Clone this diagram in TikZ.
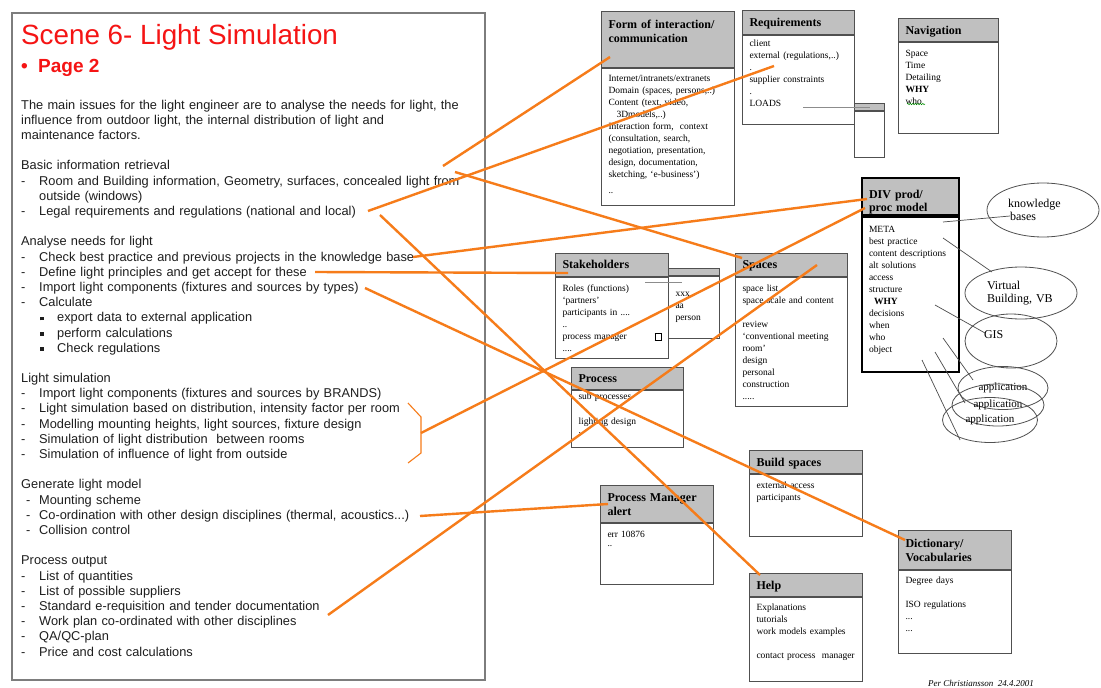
\documentclass[tikz,border=0pt]{standalone}
\usepackage{fontspec}
\setmainfont{Liberation Serif}
\setsansfont{Liberation Sans}
\usepackage{xcolor}
\usetikzlibrary{positioning,shapes.geometric,decorations.pathmorphing}
\definecolor{orangeln}{RGB}{246,124,26}
\definecolor{hdrgray}{RGB}{192,192,192}
\definecolor{boxline}{RGB}{80,80,80}
\definecolor{panelline}{RGB}{125,125,125}
\definecolor{paneltext}{RGB}{30,30,30}
\definecolor{titlered}{RGB}{245,20,20}
\setlength{\fboxsep}{0pt}
\newcommand{\dashitem}{\makebox[18pt][l]{-}}
\newcommand{\dashitemb}{\hspace*{5pt}\makebox[13pt][l]{-}}
\newcommand{\sqitem}{\hspace*{19pt}\makebox[17pt][l]{\rule[1.5pt]{3.5pt}{3.5pt}}}
\tikzset{
  panel/.style={draw=panelline, line width=1.6pt, inner sep=0pt, anchor=north west},
  hdr/.style={draw=boxline, line width=1pt, fill=hdrgray, anchor=north west, align=left, inner xsep=7pt, inner ysep=0pt, text=black, font=\fontsize{12}{13.5}\selectfont\bfseries},
  body/.style={draw=boxline, line width=1pt, fill=white, below=0pt of #1, align=left, inner xsep=7pt, inner ysep=0pt, text=black, font=\fontsize{9.5}{12}\selectfont},
  divbox/.style={draw=black, line width=2pt},
  bubble/.style={draw=boxline, line width=0.8pt, ellipse, inner sep=0pt, align=left, font=\fontsize{12}{13}\selectfont},
  appl/.style={draw=boxline, line width=0.8pt, ellipse, inner sep=0pt, font=\fontsize{11}{12}\selectfont},
  orange/.style={draw=orangeln, line width=2.4pt},
  thin/.style={draw=black!70, line width=0.7pt},
  grayln/.style={draw=black!45, line width=1pt}
}

\begin{document}
\begin{tikzpicture}[x=1pt, y=-1pt]
  \useasboundingbox (0,0) rectangle (1101,688);
  \fill[white] (0,0) rectangle (1101,688);

  % left panel
  \node[panel, minimum width=473pt, minimum height=667pt] (panel) at (11,12) {};
  \node[anchor=base west, inner sep=0pt, text=titlered, font=\sffamily\fontsize{27.8}{30}\selectfont] (title) at (21,45) {Scene 6- Light Simulation};
  \node[anchor=base west, inner sep=0pt, text=titlered, font=\sffamily\bfseries\fontsize{19}{22}\selectfont] (page) at (21,72) {\makebox[17pt][l]{\textbullet}Page 2};
  \node[anchor=base west, inner sep=0pt, text width=460pt, align=left, text=paneltext, font=\sffamily\fontsize{12.8}{15.2}\selectfont] (issues) at (21,109) {%
    The main issues for the light engineer are to analyse the needs for light, the\\
    influence from outdoor light, the internal distribution of light and\\
    maintenance factors.\\[15.2pt]
    Basic information retrieval\\
    \dashitem Room and Building information, Geometry, surfaces, concealed light from\\
    \hspace*{18pt}outside (windows)\\
    \dashitem Legal requirements and regulations (national and local)\\[15.2pt]
    Analyse needs for light\\
    \dashitem Check best practice and previous projects in the knowledge base\\
    \dashitem Define light principles and get accept for these\\
    \dashitem Import light components (fixtures and sources by types)\\
    \dashitem Calculate\\
    \sqitem export data to external application\\
    \sqitem perform calculations\\
    \sqitem Check regulations\\[15.2pt]
    Light simulation\\
    \dashitem Import light components (fixtures and sources by BRANDS)\\
    \dashitem Light simulation based on distribution, intensity factor per room\\
    \dashitem Modelling mounting heights, light sources, fixture design\\
    \dashitem Simulation of light distribution\ \ between rooms\\
    \dashitem Simulation of influence of light from outside\\[15.2pt]
    Generate light model\\
    \dashitemb Mounting scheme\\
    \dashitemb Co-ordination with other design disciplines (thermal, acoustics...)\\
    \dashitemb Collision control\\[15.2pt]
    Process output\\
    \dashitem List of quantities\\
    \dashitem List of possible suppliers\\
    \dashitem Standard e-requisition and tender documentation\\
    \dashitem Work plan co-ordinated with other disciplines\\
    \dashitem QA/QC-plan\\
    \dashitem Price and cost calculations};
  \draw[orangeln, line width=1.1pt] (408,403) -- (421,417) -- (421,453) -- (408,463);

  % boxes
  \node[hdr, text width=119pt, text height=17pt, text depth=39pt] (formH) at (601,11) {Form of interaction/\\communication};
  \node[body=formH, text width=119pt, text height=13pt, text depth=124pt] (formB) {Internet/intranets/extranets\\Domain (spaces, persons,..)\\Content (text, video,\\\hspace*{8pt}3Dmodels,..)\\Interaction form,\ \ context\\(consultation, search,\\negotiation, presentation,\\design, documentation,\\sketching, `e-business')\\[4pt]..};

  \node[hdr, text width=98pt, text height=16pt, text depth=8pt] (reqH) at (742,10) {Requirements};
  \node[body=reqH, text width=98pt, text height=11pt, text depth=78pt] (reqB) {client\\external (regulations,..)\\.\\supplier constraints\\.\\LOADS};
  \node[hdr, text width=16pt, text height=7pt, text depth=0pt] (reqSideH) at (854,103) {};
  \node[body=reqSideH, text width=16pt, text height=0pt, text depth=46pt] (reqSideB) {};

  \node[hdr, text width=86pt, text height=16pt, text depth=7pt] (navH) at (898,18) {Navigation};
  \node[body=navH, text width=86pt, text height=14pt, text depth=77pt] (navB) {Space\\Time\\Detailing\\\textbf{WHY}\\who};
  \draw[green!55!black, line width=0.5pt, decorate, decoration={snake, amplitude=0.7pt, segment length=2.5pt}] (907,104) -- (925,104);

  \node[hdr, divbox, text width=83pt, text height=20pt, text depth=17pt] (divH) at (861,177) {DIV prod/\\proc model};
  \node[body=divH, divbox, text width=83pt, text height=15pt, text depth=140pt] (divB) {META\\best practice\\content descriptions\\alt solutions\\access\\structure\\\hspace*{5pt}\textbf{WHY}\\decisions\\when\\who\\object};

  \node[hdr, text width=37pt, text height=7pt, text depth=0pt] (stakeBackH) at (668,268) {};
  \node[body=stakeBackH, text width=37pt, text height=20pt, text depth=42pt] (stakeBackB) {xxx\\aa\\person};
  \node[hdr, text width=99pt, text height=15pt, text depth=8pt] (stakeH) at (555,253) {Stakeholders};
  \node[body=stakeH, text width=99pt, text height=14pt, text depth=67pt] (stakeB) {Roles (functions)\\`partners'\\participants in ....\\..\\process manager\hfill\fbox{\rule{0pt}{6pt}\rule{6pt}{0pt}}\hspace*{8pt}\\....};

  \node[hdr, text width=98pt, text height=15pt, text depth=8pt] (spacesH) at (735,253) {Spaces};
  \node[body=spacesH, text width=98pt, text height=14pt, text depth=115pt] (spacesB) {space list\\space scale and content\\[12pt]review\\`conventional meeting\\room'\\design\\personal\\construction\\.....};

  \node[hdr, text width=98pt, text height=15pt, text depth=7pt] (procH) at (571,367) {Process};
  \node[body=procH, text width=98pt, text height=9pt, text depth=48pt] (procB) {sub processes\\[13pt]lighting design\\[-3pt].};

  \node[hdr, text width=99pt, text height=16pt, text depth=7pt] (buildH) at (749,450) {Build spaces};
  \node[body=buildH, text width=99pt, text height=14pt, text depth=48pt] (buildB) {external access\\participants};

  \node[hdr, text width=99pt, text height=16pt, text depth=21pt] (pmH) at (600,485) {Process Manager\\alert};
  \node[body=pmH, text width=99pt, text height=14pt, text depth=47pt] (pmB) {err 10876\\[-3pt]..};

  \node[hdr, text width=99pt, text height=16pt, text depth=7pt] (helpH) at (749,573) {Help};
  \node[body=helpH, text width=99pt, text height=13pt, text depth=71pt] (helpB) {Explanations\\tutorials\\work models examples\\[12pt]\makebox[99pt][l]{contact process\ \ manager}};

  \node[hdr, text width=99pt, text height=17pt, text depth=22pt] (dictH) at (898,530) {Dictionary/\\Vocabularies};
  \node[body=dictH, text width=99pt, text height=13pt, text depth=70pt] (dictB) {Degree days\\[12pt]ISO regulations\\...\\...};

  % ellipses
  \node[bubble, text width=70pt, minimum width=112pt, minimum height=54pt] (kb) at (1043,210) {knowledge\\\hspace*{2pt}bases};
  \node[bubble, text width=68pt, minimum width=112pt, minimum height=52pt] (vb) at (1021,293) {Virtual\\Building, VB};
  \node[bubble, text width=54pt, minimum width=92pt, minimum height=54pt] (gis) at (1011,341) {GIS\\\mbox{}};
  \node[appl, minimum width=90pt, minimum height=43pt] (appA) at (1003,388) {application};
  \node[appl, minimum width=92pt, minimum height=42pt] (appB) at (998,405) {application};
  \node[appl, minimum width=95pt, minimum height=45pt] (appC) at (990,420) {application};

  % thin links
  \coordinate (metaA) at (943,222);  \coordinate (kbIn) at (1010,216);
  \coordinate (bestB) at (943,238);  \coordinate (vbIn) at (992,272);
  \coordinate (whyA) at (935,305);   \coordinate (gisIn) at (985,333);
  \coordinate (whoA) at (943,338);   \coordinate (appInA) at (973,380);
  \coordinate (objA) at (935,352);   \coordinate (appInB) at (965,403);
  \coordinate (objB) at (922,360);   \coordinate (appInC) at (960,440);
  \draw[thin] (metaA) -- (kbIn);
  \draw[thin] (bestB) -- (vbIn);
  \draw[thin] (whyA) -- (gisIn);
  \draw[thin] (whoA) -- (appInA);
  \draw[thin] (objA) -- (appInB);
  \draw[thin] (objB) -- (appInC);
  \coordinate (loadsA) at (803,107); \coordinate (loadsB) at (870,107);
  \coordinate (rolesA) at (645,282); \coordinate (rolesB) at (682,282);
  \draw[grayln] (loadsA) -- (loadsB);
  \draw[grayln] (rolesA) -- (rolesB);

  % orange links
  \coordinate (roomA) at (443,166);   \coordinate (formIn) at (610,57);
  \coordinate (roomB) at (455,172);   \coordinate (spacesIn) at (742,258);
  \coordinate (legalA) at (368,211);  \coordinate (reqIn) at (774,66);
  \coordinate (legalB) at (380,215);  \coordinate (helpIn) at (760,575);
  \coordinate (bestA) at (413,257);   \coordinate (divInA) at (867,199);
  \coordinate (defineA) at (315,272); \coordinate (stakeIn) at (568,273);
  \coordinate (importA) at (365,288); \coordinate (dictIn) at (905,540);
  \coordinate (simBr) at (421,433);   \coordinate (divInB) at (865,208);
  \coordinate (coordA) at (420,516);  \coordinate (pmIn) at (608,504);
  \coordinate (tenderA) at (328,615); \coordinate (spacesInB) at (817,265);
  \draw[orange] (roomA) -- (formIn);
  \draw[orange] (roomB) -- (spacesIn);
  \draw[orange] (legalA) -- (reqIn);
  \draw[orange] (legalB) -- (helpIn);
  \draw[orange] (bestA) -- (divInA);
  \draw[orange] (defineA) -- (stakeIn);
  \draw[orange] (importA) -- (dictIn);
  \draw[orange] (simBr) -- (divInB);
  \draw[orange] (coordA) -- (pmIn);
  \draw[orange] (tenderA) -- (spacesInB);

  \node[anchor=base west, inner sep=0pt, font=\fontsize{9}{10}\selectfont\itshape] (sign) at (928,686) {Per Christiansson\ \ 24.4.2001};
\end{tikzpicture}
\end{document}
